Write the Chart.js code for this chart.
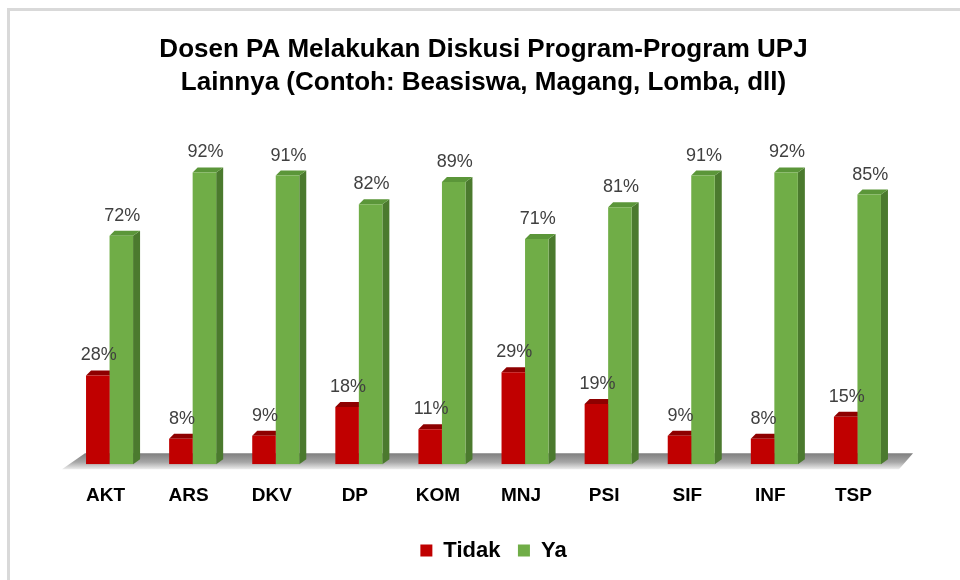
<!DOCTYPE html>
<html><head><meta charset="utf-8">
<script src="https://cdn.jsdelivr.net/npm/chart.js@4.4.0/dist/chart.umd.min.js"></script>
<style>html,body{margin:0;padding:0;background:#fff}#wrap{width:960px;height:580px;position:relative}</style>
</head><body><div id="wrap"><canvas id="c" width="960" height="580"></canvas></div>
<script>
const categories = ['AKT','ARS','DKV','DP','KOM','MNJ','PSI','SIF','INF','TSP'];
const tidakValues = [28, 8, 9, 18, 11, 29, 19, 9, 8, 15];
const yaValues = [72, 92, 91, 82, 89, 71, 81, 91, 92, 85];
const seriesNames = ['Tidak', 'Ya'];
const titleLines = ['Dosen PA Melakukan Diskusi Program-Program UPJ', 'Lainnya (Contoh: Beasiswa, Magang, Lomba, dll)'];

const frontColors = ['#C00000', '#70AD47'];
const topColors = ['#8E0000', '#5B9639'];
const sideColors = ['#7A0000', '#4B7A2E'];
const DX = 7, DY = 5;

const frame = {
  id: 'frame',
  beforeDraw(chart) {
    const ctx = chart.ctx;
    ctx.save();
    ctx.fillStyle = '#fff';
    ctx.fillRect(0, 0, chart.width, chart.height);
    ctx.fillStyle = '#d9d9d9';
    ctx.fillRect(7, 8, chart.width - 7, 3);
    ctx.fillRect(7, 8, 3, chart.height - 8);
    ctx.restore();
  },
  afterLayout(chart) {
    if (chart.legend) { chart.legend.left += 10; chart.legend.right += 10; }
  }
};

const bars3d = {
  id: 'bars3d',
  beforeDatasetsDraw(chart) {
    const ctx = chart.ctx, a = chart.chartArea;
    const base = chart.scales.y.getPixelForValue(0);
    ctx.save();
    const g = ctx.createLinearGradient(0, base - 11, 0, base + 5);
    g.addColorStop(0, '#7f7f7f');
    g.addColorStop(0.55, '#a6a6a6');
    g.addColorStop(1, '#ececec');
    ctx.fillStyle = g;
    ctx.beginPath();
    ctx.moveTo(a.left + 17, base - 11);
    ctx.lineTo(a.right + 14, base - 11);
    ctx.lineTo(a.right, base + 5);
    ctx.lineTo(a.left - 6, base + 5);
    ctx.closePath();
    ctx.fill();
    chart.data.datasets.forEach((ds, di) => {
      const meta = chart.getDatasetMeta(di);
      meta.data.forEach(el => {
        const p = el.getProps(['x', 'y', 'base', 'width'], true);
        const l = p.x - p.width / 2, r = p.x + p.width / 2;
        ctx.fillStyle = sideColors[di];
        ctx.beginPath();
        ctx.moveTo(r, p.y);
        ctx.lineTo(r + DX, p.y - DY);
        ctx.lineTo(r + DX, p.base - DY);
        ctx.lineTo(r, p.base);
        ctx.closePath();
        ctx.fill();
        ctx.fillStyle = topColors[di];
        ctx.beginPath();
        ctx.moveTo(l, p.y);
        ctx.lineTo(l + DX - 2, p.y - DY);
        ctx.lineTo(r + DX, p.y - DY);
        ctx.lineTo(r, p.y);
        ctx.closePath();
        ctx.fill();
      });
    });
    ctx.restore();
  },
  afterDatasetsDraw(chart) {
    const ctx = chart.ctx;
    ctx.save();
    ctx.font = '18px "Liberation Sans", Arial, sans-serif';
    ctx.fillStyle = '#404040';
    ctx.textAlign = 'center';
    ctx.textBaseline = 'alphabetic';
    chart.data.datasets.forEach((ds, di) => {
      const meta = chart.getDatasetMeta(di);
      meta.data.forEach((el, i) => {
        const p = el.getProps(['x', 'y'], true);
        ctx.fillText(ds.data[i] + '%', p.x + 1, p.y - 15);
      });
    });
    ctx.restore();
  }
};

new Chart(document.getElementById('c'), {
  type: 'bar',
  data: {
    labels: categories,
    datasets: [
      { label: seriesNames[0], data: tidakValues, backgroundColor: frontColors[0], borderWidth: 0 },
      { label: seriesNames[1], data: yaValues, backgroundColor: frontColors[1], borderWidth: 0 }
    ]
  },
  options: {
    responsive: false,
    animation: false,
    devicePixelRatio: 1,
    layout: { padding: { left: 68, right: 61, top: 0, bottom: 8.5 } },
    datasets: { bar: { categoryPercentage: 0.566, barPercentage: 1 } },
    scales: {
      x: {
        grid: { display: false },
        border: { display: false },
        afterFit(scale) { scale.height += 3; },
        ticks: { color: '#000', padding: 12, labelOffset: -4, font: { family: '"Liberation Sans", Arial, sans-serif', weight: 'bold', size: 19 } }
      },
      y: { display: false, min: 0, max: 100 }
    },
    plugins: {
      title: {
        display: true,
        text: titleLines,
        color: '#000',
        font: { family: '"Liberation Sans", Arial, sans-serif', weight: 'bold', size: 26, lineHeight: 1.27 },
        padding: { top: 33, bottom: 48 }
      },
      legend: {
        position: 'bottom',
        labels: {
          color: '#000',
          boxWidth: 12, boxHeight: 12, padding: 17.5,
          font: { family: '"Liberation Sans", Arial, sans-serif', weight: 'bold', size: 22 }
        }
      },
      tooltip: { enabled: false }
    }
  },
  plugins: [frame, bars3d]
});
</script></body></html>
